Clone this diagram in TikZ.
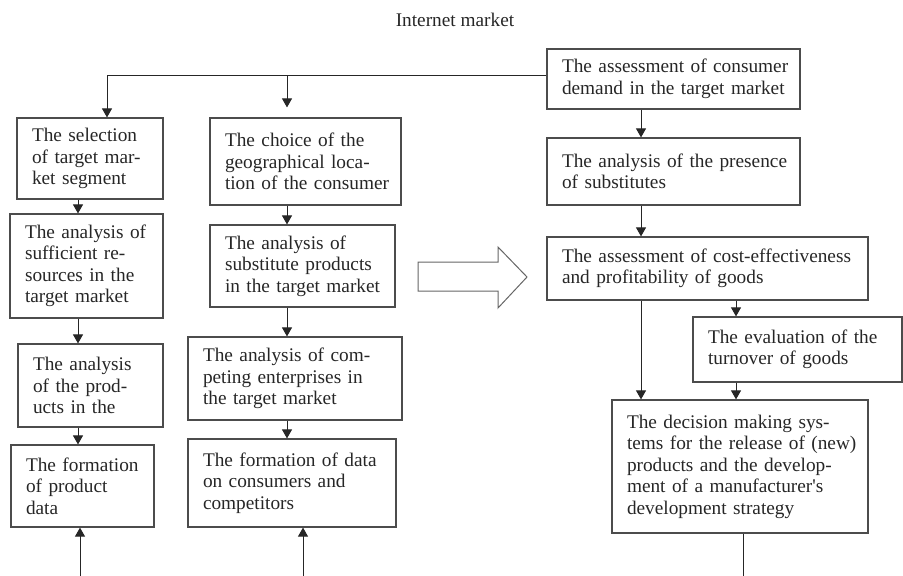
\documentclass[tikz,border=0pt]{standalone}
\usepackage{fontspec}
\setmainfont{Liberation Serif}
\usetikzlibrary{arrows.meta}

\begin{document}
\begin{tikzpicture}[x=1pt,y=-1pt,
  every node/.style={font=\fontsize{19.3}{21.5}\selectfont,text=black!85},
  box/.style={draw=black!70,line width=1.2pt,align=left,inner xsep=4pt,inner ysep=0pt,
    execute at begin node={\leftskip=11pt}},
  e/.style={-{Triangle[length=9pt,width=10pt]},draw=black!85,line width=1pt},
  ln/.style={draw=black!85,line width=1pt}]
 \useasboundingbox (0,0) rectangle (903,576);
 \node (title) at (455,20) {Internet market};
 % left column
 \node[box,text width=138pt,minimum height=81pt] (A1) at (90,158.5) {The selection\\of target mar-\\ket segment};
 \node[box,text width=145pt,minimum height=104pt] (A2) at (86.5,266) {The analysis of\\sufficient re-\\sources in the\\target market};
 \node[box,text width=137pt,minimum height=83pt] (A3) at (90.5,385.5) {The analysis\\of the prod-\\ucts in the};
 \node[box,text width=135pt,minimum height=82pt] (A4) at (82.5,486) {The formation\\of product\\data};
 % middle column
 \node[box,text width=183pt,minimum height=87pt] (B1) at (305.5,161.5) {The choice of the\\geographical loca-\\tion of the consumer};
 \node[box,text width=177pt,minimum height=82pt] (B2) at (302.5,266) {The analysis of\\substitute products\\in the target market};
 \node[box,text width=206pt,minimum height=83pt] (B3) at (295,378.5) {The analysis of com-\\peting enterprises in\\the target market};
 \node[box,text width=200pt,minimum height=88pt] (B4) at (292,483) {The formation of data\\on consumers and\\competitors};
 % right column
 \node[box,text width=245pt,minimum height=60pt] (C1) at (673.5,79) {The assessment of consumer\\demand in the target market};
 \node[box,text width=245pt,minimum height=67pt] (C2) at (673.5,171.5) {The analysis of the presence\\of substitutes};
 \node[box,text width=313pt,minimum height=63pt] (C3) at (707.5,268.5) {The assessment of cost-effectiveness\\and profitability of goods};
 \node[box,text width=201pt,minimum height=65pt] (C4) at (797.5,349.5) {The evaluation of the\\turnover of goods};
 \node[box,text width=248pt,minimum height=133pt] (C5) at (740,466.5) {The decision making sys-\\tems for the release of (new)\\products and the develop-\\ment of a manufacturer\textquotesingle s\\development strategy};
 % hollow arrow
 \draw[black!60,line width=1pt] (418,262) -- (498,262) -- (498,247) -- (527,277) -- (498,308) -- (498,291) -- (418,291) -- cycle;
 \coordinate (ta) at (107,75);
 \coordinate (tb) at (287,75);
 \coordinate (xa) at (78,0);
 \coordinate (xb) at (287,0);
 \coordinate (xc) at (641,0);
 \coordinate (xd) at (736,0);
 \coordinate (a0) at (80,580);
 \coordinate (b0) at (303,580);
 \coordinate (c0) at (743,580);
 \draw[e] ([yshift=4pt]C1.west) -| (ta |- A1.north);
 \draw[e,shorten >=10pt] (tb) -- (tb |- B1.north);
 \draw[e] (A1.south -| xa) -- (A2.north -| xa);
 \draw[e] (A2.south -| xa) -- (A3.north -| xa);
 \draw[e] (A3.south -| xa) -- (A4.north -| xa);
 \draw[e] (a0) -- (A4.south -| a0);
 \draw[e] (B1.south -| xb) -- (B2.north -| xb);
 \draw[e] (B2.south -| xb) -- (B3.north -| xb);
 \draw[e] (B3.south -| xb) -- (B4.north -| xb);
 \draw[e] (b0) -- (B4.south -| b0);
 \draw[e] (C1.south -| xc) -- (C2.north -| xc);
 \draw[e] (C2.south -| xc) -- (C3.north -| xc);
 \draw[e] (C3.south -| xc) -- (C5.north -| xc);
 \draw[e] (C3.south -| xd) -- (C4.north -| xd);
 \draw[e] (C4.south -| xd) -- (C5.north -| xd);
 \draw[ln] (C5.south -| c0) -- (c0);
\end{tikzpicture}
\end{document}
